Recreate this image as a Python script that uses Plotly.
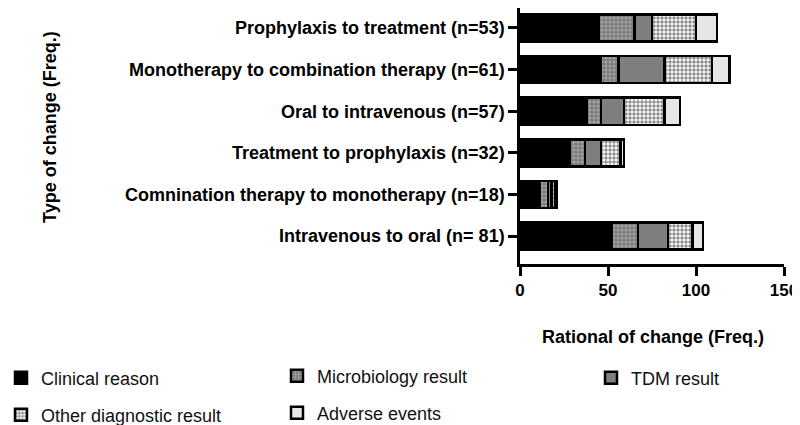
import plotly.graph_objects as go

categories = [
    "Prophylaxis to treatment (n=53)",
    "Monotherapy to combination therapy (n=61)",
    "Oral to intravenous (n=57)",
    "Treatment to prophylaxis (n=32)",
    "Comnination therapy to monotherapy (n=18)",
    "Intravenous to oral (n= 81)",
]
clinical_reason = [45, 46, 38, 28, 11, 52]
microbiology_result = [20, 10, 8, 9, 5, 15]
tdm_result = [10, 26, 13, 9, 2, 17]
other_diagnostic_result = [25, 27, 23, 11, 2, 14]
adverse_events = [12, 10, 9, 2, 1, 6]

x_ticks = [0, 50, 100, 150]

FONT = "Liberation Sans, Arial, sans-serif"
OFF = 8  # page body margin
W, H = 800 - OFF, 425 - OFF
# plot area in window pixels: x 520..784, y 8..264
L = 520 - OFF
R = W - (784 - OFF)
T = 0
B = H - (264 - OFF)
PW = W - L - R
PH = H - T - B


def px_x(p):  # window pixel -> paper x
    return (p - OFF - L) / PW


def px_y(p):  # window pixel -> paper y
    return (H - B - (p - OFF)) / PH


series = [
    ("Clinical reason", clinical_reason, dict(color="#000000"), "legend", (41, 378)),
    ("Microbiology result", microbiology_result,
     dict(color="#8c8c8c", pattern=dict(shape=".", bgcolor="#7a7a7a", fgcolor="#d0d0d0", size=4, solidity=0.45)),
     "legend2", (317, 376)),
    ("TDM result", tdm_result, dict(color="#7f7f7f"), "legend3", (631, 378)),
    ("Other diagnostic result", other_diagnostic_result,
     dict(color="#ffffff", pattern=dict(shape=".", bgcolor="#ffffff", fgcolor="#1a1a1a", size=4, solidity=0.6)),
     "legend4", (41, 415)),
    ("Adverse events", adverse_events, dict(color="#e6e6e6"), "legend5", (317, 413)),
]

fig = go.Figure()
legend_layouts = {}
for name, vals, mk, lg, (tx, ty) in series:
    marker = dict(mk)
    marker["line"] = dict(color="#000000", width=2.5)
    fig.add_trace(go.Bar(
        name=name, x=vals, y=categories, orientation="h",
        marker=marker, width=0.65, legend=lg,
    ))
    legend_layouts[lg] = dict(
        x=px_x(tx - 40), y=px_y(ty),
        xref="paper", yref="paper",
        xanchor="left", yanchor="middle",
        font=dict(family=FONT, size=18, color="#111111"),
        bgcolor="rgba(0,0,0,0)", itemwidth=30, borderwidth=0,
    )

fig.update_layout(
    width=W, height=H,
    margin=dict(l=L, r=R, t=T, b=B, autoexpand=False),
    barmode="stack",
    plot_bgcolor="white", paper_bgcolor="white",
    showlegend=True,
    font=dict(family=FONT, color="#000000"),
    **legend_layouts,
)

fig.update_xaxes(
    range=[0, 150], tickvals=x_ticks, ticktext=[str(v) for v in x_ticks],
    showgrid=False, zeroline=False, automargin=False,
    showline=True, linecolor="#000000", linewidth=2.5,
    ticks="outside", ticklen=9, tickwidth=2.5, tickcolor="#000000",
    tickfont=dict(family=FONT, size=17, weight="bold", color="#000000"),
)
fig.update_yaxes(
    type="category", categoryorder="array", categoryarray=categories,
    range=[5.67, -0.48], automargin=False,
    showgrid=False, zeroline=False,
    showline=True, linecolor="#000000", linewidth=2.5,
    ticks="outside", ticklen=9, tickwidth=2.5, tickcolor="#000000",
    tickfont=dict(family=FONT, size=18, weight="bold", color="#000000"),
)

fig.add_annotation(
    text="Type of change (Freq.)", textangle=-90,
    xref="paper", yref="paper", x=px_x(50), y=px_y(127),
    xanchor="center", yanchor="middle", showarrow=False,
    font=dict(family=FONT, size=18, weight="bold", color="#000000"),
)
fig.add_annotation(
    text="Rational of change (Freq.)",
    xref="paper", yref="paper", x=px_x(653), y=px_y(337),
    xanchor="center", yanchor="middle", showarrow=False,
    font=dict(family=FONT, size=18, weight="bold", color="#000000"),
)

fig.write_html("out.html")
